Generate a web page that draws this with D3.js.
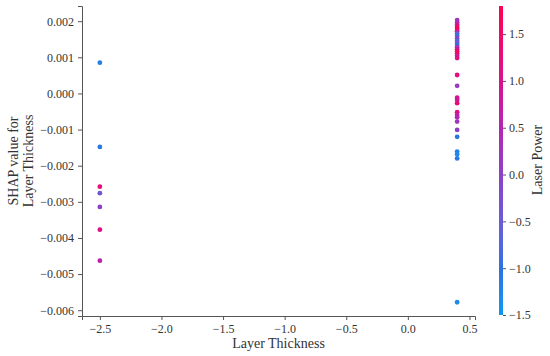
<!DOCTYPE html>
<html>
<head>
<meta charset="utf-8">
<script src="https://cdn.jsdelivr.net/npm/d3@7"></script>
<style>
  body { margin: 0; background: #fff; }
  svg text { font-family: "Liberation Serif", "DejaVu Serif", serif; fill: #333; }
</style>
</head>
<body>
<div id="chart"></div>
<script>
// layer thickness (standardised), shap value, laser power
var layer_thickness = [-2.5, -2.5, -2.5, -2.5, -2.5, -2.5, -2.5,
    0.4, 0.4, 0.4, 0.4, 0.4, 0.4, 0.4, 0.4, 0.4, 0.4, 0.4, 0.4, 0.4, 0.4, 0.4, 0.4, 0.4, 0.4,
    0.4, 0.4, 0.4, 0.4, 0.4, 0.4, 0.4, 0.4, 0.4, 0.4, 0.4, 0.4, 0.4, 0.4, 0.4]
var shap_values = [0.00085, -0.00148, -0.00258, -0.00276, -0.00314, -0.00377, -0.00463,
    0.00203, 0.00196, 0.00190, 0.00184, 0.00178, 0.00172, 0.00166, 0.00160, 0.00152, 0.00146,
    0.00140, 0.00134, 0.00128, 0.00122, 0.00116, 0.00110, 0.00104, 0.00098,
    0.00051, 0.00021, -0.00012, -0.00018, -0.00027, -0.00052, -0.00060, -0.00066, -0.00078,
    -0.00101, -0.00120, -0.00161, -0.00168, -0.00180, -0.00578]
var laser_power = [-1.2, -1.1, 1.3, -0.4, 0.0, 1.1, 0.6,
    0.2, 0.4, 0.9, 1.5, 1.7, 1.2, -0.6, -0.9, 0.1, -0.8,
    -0.3, -1.0, 0.3, 1.0, 1.4, 1.6, 0.8, 1.1,
    1.2, 0.1, 1.0, 0.8, 1.3, 1.1, 0.7, 0.4, 0.2,
    0.0, -1.0, -1.2, -1.3, -1.1, -1.3]

var x_ticks = [-2.5, -2.0, -1.5, -1.0, -0.5, 0.0, 0.5]
var y_ticks = [0.002, 0.001, 0.000, -0.001, -0.002, -0.003, -0.004, -0.005, -0.006]
var cbar_ticks = [-1.5, -1.0, -0.5, 0.0, 0.5, 1.0, 1.5]
var cbar_range = [-1.5, 1.8]
// colour stops
var cmap_values = [-1.5, -1.0, -0.5, 0.0, 0.5, 1.0, 1.5, 1.8]
var cmap_colors = ["#0a98f2", "#2a72e2", "#6a5ad8", "#8c40c8", "#b424b2", "#d8128e", "#f00a68", "#ff0052"]

var width = 550, height = 356
var margin = {left: 82, right: 75, top: 6, bottom: 40}
var serif = "'Liberation Serif', 'DejaVu Serif', serif"

var svg = d3.select("#chart").append("svg")
    .attr("width", width)
    .attr("height", height)

var x = d3.scaleLinear().domain([-2.645, 0.545]).range([margin.left, width - margin.right])
var y = d3.scaleLinear().domain([-0.00616, 0.00242]).range([height - margin.bottom, margin.top])

var color = d3.scaleLinear()
    .domain(cmap_values)
    .range(cmap_colors)
    .interpolate(d3.interpolateLab)
    .clamp(true)

var minus = s => s.replace("-", "\u2212")

svg.append("g")
    .attr("transform", "translate(0," + (height - margin.bottom) + ")")
    .call(d3.axisBottom(x).tickValues(x_ticks).tickSize(4).tickPadding(4)
        .tickFormat(d => minus(d3.format(".1f")(d))))

svg.append("g")
    .attr("transform", "translate(" + margin.left + ",0)")
    .call(d3.axisLeft(y).tickValues(y_ticks).tickSize(4).tickPadding(4)
        .tickFormat(d => minus(d3.format(".3f")(Math.abs(d) < 1e-12 ? 0 : d))))

svg.selectAll(".domain").attr("stroke", "#555")
svg.selectAll(".tick line").attr("stroke", "#555")
svg.selectAll(".tick text")
    .attr("font-family", serif)
    .style("font-family", serif)
    .style("font-size", "12px")

var points = layer_thickness.map((d, i) => ({x: d, y: shap_values[i], c: laser_power[i]}))

svg.append("g").selectAll("circle")
    .data(points)
    .enter()
    .append("circle")
    .attr("cx", d => x(d.x))
    .attr("cy", d => y(d.y))
    .attr("r", 2.4)
    .attr("fill", d => color(d.c))

svg.append("text")
    .attr("x", (margin.left + width - margin.right) / 2)
    .attr("y", 348)
    .attr("text-anchor", "middle")
    .style("font-size", "14px")
    .text("Layer Thickness")

var yl = svg.append("text")
    .attr("transform", "translate(18,161) rotate(-90)")
    .attr("text-anchor", "middle")
    .style("font-size", "14px")
yl.append("tspan").attr("x", 0).attr("dy", 0).text("SHAP value for")
yl.append("tspan").attr("x", 0).attr("dy", 15).text("Layer Thickness")

// colorbar
var cb = d3.scaleLinear().domain(cbar_range).range([315, 6])
var grad = svg.append("defs").append("linearGradient")
    .attr("id", "cbar")
    .attr("x1", 0).attr("y1", 1).attr("x2", 0).attr("y2", 0)
d3.range(0, 1.0001, 0.05).forEach(function(t){
    grad.append("stop")
        .attr("offset", t)
        .attr("stop-color", color(cbar_range[0] + t * (cbar_range[1] - cbar_range[0])))
})
svg.append("rect")
    .attr("x", 499)
    .attr("y", cb(cbar_range[1]))
    .attr("width", 4)
    .attr("height", cb(cbar_range[0]) - cb(cbar_range[1]))
    .attr("fill", "url(#cbar)")

var cbAxis = svg.append("g")
    .attr("transform", "translate(503,0)")
    .call(d3.axisRight(cb).tickValues(cbar_ticks).tickSize(3).tickPadding(3)
        .tickFormat(d => minus(d3.format(".1f")(d))))
cbAxis.select(".domain").remove()
cbAxis.selectAll(".tick line").attr("stroke", "#555")
cbAxis.selectAll(".tick text")
    .attr("font-family", serif)
    .style("font-family", serif)
    .style("font-size", "12px")

svg.append("text")
    .attr("transform", "translate(542,160) rotate(-90)")
    .attr("text-anchor", "middle")
    .style("font-size", "14px")
    .text("Laser Power")
</script>
</body>
</html>
